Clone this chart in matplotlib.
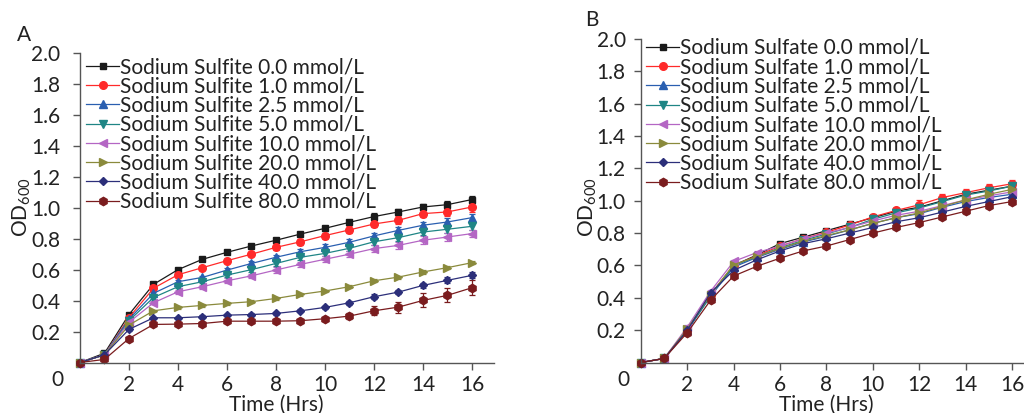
import matplotlib
matplotlib.use("Agg")
import matplotlib.pyplot as plt
from matplotlib.lines import Line2D
import numpy as np

plt.rcParams['font.family'] = ['Lato', 'DejaVu Sans']
plt.rcParams['mathtext.fontset'] = 'custom'
plt.rcParams['mathtext.rm'] = 'Lato'

hours = list(range(17))
concs = ["0.0", "1.0", "2.5", "5.0", "10.0", "20.0", "40.0", "80.0"]
colors = ["#1a1a1a", "#ff2a2a", "#2a5fb0", "#1f8585", "#b466c4", "#8a8a3c", "#2c2f7a", "#7a1c1e"]
markers = ["s", "o", "^", "v", "<", ">", "D", "h"]
msizes = [5, 5.5, 5.5, 5.5, 5.5, 5.5, 4.5, 6]

# Panel A: Sodium Sulfite
sulfite_00 = [0, 0.06, 0.31, 0.505, 0.60, 0.667, 0.712, 0.753, 0.79, 0.83, 0.867, 0.906, 0.943, 0.973, 1.005, 1.02, 1.053]
sulfite_10 = [0, 0.05, 0.29, 0.48, 0.567, 0.613, 0.658, 0.70, 0.744, 0.78, 0.82, 0.857, 0.895, 0.919, 0.962, 0.973, 1.005]
sulfite_25 = [0, 0.05, 0.28, 0.447, 0.522, 0.55, 0.597, 0.64, 0.68, 0.716, 0.744, 0.777, 0.818, 0.854, 0.887, 0.908, 0.936]
sulfite_50 = [0, 0.05, 0.27, 0.42, 0.49, 0.522, 0.565, 0.60, 0.64, 0.68, 0.705, 0.738, 0.78, 0.807, 0.843, 0.861, 0.88]
sulfite_100 = [0, 0.05, 0.26, 0.386, 0.457, 0.49, 0.528, 0.56, 0.598, 0.634, 0.667, 0.70, 0.736, 0.757, 0.79, 0.811, 0.833]
sulfite_200 = [0, 0.05, 0.242, 0.334, 0.356, 0.369, 0.382, 0.393, 0.414, 0.44, 0.462, 0.49, 0.528, 0.552, 0.585, 0.613, 0.645]
sulfite_400 = [0, 0.05, 0.214, 0.289, 0.289, 0.296, 0.306, 0.31, 0.317, 0.334, 0.356, 0.386, 0.425, 0.455, 0.498, 0.531, 0.563]
sulfite_800 = [0, 0.02, 0.155, 0.246, 0.248, 0.252, 0.267, 0.267, 0.267, 0.27, 0.283, 0.30, 0.334, 0.358, 0.401, 0.434, 0.483]

sulfite_err_00 = [0, 0.005, 0.01, 0.01, 0.01, 0.01, 0.01, 0.01, 0.012, 0.015, 0.015, 0.018, 0.02, 0.022, 0.022, 0.025, 0.025]
sulfite_err_10 = [0, 0.005, 0.01, 0.01, 0.012, 0.012, 0.015, 0.015, 0.018, 0.02, 0.02, 0.022, 0.022, 0.025, 0.025, 0.028, 0.03]
sulfite_err_25 = [0, 0.005, 0.01, 0.01, 0.012, 0.012, 0.012, 0.015, 0.015, 0.018, 0.02, 0.02, 0.02, 0.022, 0.022, 0.025, 0.025]
sulfite_err_50 = [0, 0.005, 0.01, 0.01, 0.01, 0.01, 0.012, 0.012, 0.015, 0.015, 0.018, 0.018, 0.02, 0.02, 0.02, 0.022, 0.022]
sulfite_err_100 = [0, 0.005, 0.01, 0.01, 0.012, 0.012, 0.015, 0.015, 0.018, 0.018, 0.02, 0.02, 0.022, 0.022, 0.025, 0.025, 0.025]
sulfite_err_200 = [0, 0.005, 0.008, 0.008, 0.008, 0.008, 0.008, 0.008, 0.008, 0.008, 0.008, 0.008, 0.01, 0.01, 0.01, 0.01, 0.01]
sulfite_err_400 = [0, 0.005, 0.008, 0.008, 0.008, 0.008, 0.008, 0.008, 0.008, 0.01, 0.01, 0.012, 0.015, 0.015, 0.015, 0.02, 0.02]
sulfite_err_800 = [0, 0.005, 0.008, 0.008, 0.008, 0.008, 0.008, 0.01, 0.01, 0.01, 0.012, 0.02, 0.03, 0.035, 0.045, 0.045, 0.05]

# Panel B: Sodium Sulfate
sulfate_00 = [0, 0.025, 0.20, 0.42, 0.60, 0.665, 0.735, 0.775, 0.815, 0.855, 0.895, 0.935, 0.96, 1.00, 1.04, 1.065, 1.09]
sulfate_10 = [0, 0.025, 0.20, 0.42, 0.60, 0.66, 0.72, 0.765, 0.805, 0.85, 0.90, 0.94, 0.975, 1.02, 1.05, 1.08, 1.105]
sulfate_25 = [0, 0.025, 0.20, 0.41, 0.59, 0.65, 0.70, 0.745, 0.78, 0.82, 0.86, 0.895, 0.92, 0.96, 0.995, 1.02, 1.04]
sulfate_50 = [0, 0.025, 0.20, 0.41, 0.60, 0.655, 0.71, 0.755, 0.795, 0.835, 0.885, 0.925, 0.955, 0.995, 1.035, 1.06, 1.09]
sulfate_100 = [0, 0.025, 0.22, 0.44, 0.625, 0.68, 0.72, 0.765, 0.80, 0.835, 0.875, 0.91, 0.935, 0.97, 1.005, 1.03, 1.055]
sulfate_200 = [0, 0.025, 0.21, 0.42, 0.605, 0.655, 0.705, 0.75, 0.785, 0.82, 0.86, 0.895, 0.925, 0.965, 1.005, 1.04, 1.07]
sulfate_400 = [0, 0.025, 0.20, 0.43, 0.57, 0.635, 0.69, 0.735, 0.765, 0.80, 0.835, 0.87, 0.895, 0.93, 0.965, 0.995, 1.025]
sulfate_800 = [0, 0.025, 0.185, 0.385, 0.535, 0.595, 0.645, 0.69, 0.72, 0.76, 0.80, 0.835, 0.865, 0.90, 0.935, 0.97, 0.995]

sulfate_err_00 = [0, 0.005, 0.01, 0.01, 0.01, 0.01, 0.01, 0.01, 0.01, 0.012, 0.012, 0.015, 0.015, 0.018, 0.02, 0.02, 0.02]
sulfate_err_10 = [0, 0.005, 0.01, 0.01, 0.01, 0.01, 0.01, 0.01, 0.012, 0.012, 0.015, 0.018, 0.03, 0.02, 0.022, 0.022, 0.022]
sulfate_err_25 = [0, 0.005, 0.01, 0.01, 0.01, 0.01, 0.01, 0.01, 0.01, 0.012, 0.012, 0.015, 0.015, 0.015, 0.018, 0.018, 0.02]
sulfate_err_50 = [0, 0.005, 0.01, 0.01, 0.01, 0.01, 0.01, 0.01, 0.012, 0.012, 0.015, 0.015, 0.018, 0.018, 0.02, 0.022, 0.025]
sulfate_err_100 = [0, 0.005, 0.01, 0.01, 0.01, 0.01, 0.01, 0.01, 0.012, 0.012, 0.015, 0.015, 0.015, 0.018, 0.018, 0.02, 0.02]
sulfate_err_200 = [0, 0.005, 0.01, 0.01, 0.01, 0.01, 0.01, 0.01, 0.01, 0.012, 0.012, 0.015, 0.015, 0.015, 0.018, 0.018, 0.02]
sulfate_err_400 = [0, 0.005, 0.01, 0.01, 0.01, 0.01, 0.01, 0.01, 0.01, 0.012, 0.012, 0.012, 0.015, 0.015, 0.015, 0.018, 0.018]
sulfate_err_800 = [0, 0.005, 0.01, 0.01, 0.01, 0.01, 0.01, 0.01, 0.01, 0.01, 0.012, 0.012, 0.012, 0.015, 0.015, 0.015, 0.015]

sulfite = [sulfite_00, sulfite_10, sulfite_25, sulfite_50, sulfite_100, sulfite_200, sulfite_400, sulfite_800]
sulfite_err = [sulfite_err_00, sulfite_err_10, sulfite_err_25, sulfite_err_50, sulfite_err_100, sulfite_err_200, sulfite_err_400, sulfite_err_800]
sulfate = [sulfate_00, sulfate_10, sulfate_25, sulfate_50, sulfate_100, sulfate_200, sulfate_400, sulfate_800]
sulfate_err = [sulfate_err_00, sulfate_err_10, sulfate_err_25, sulfate_err_50, sulfate_err_100, sulfate_err_200, sulfate_err_400, sulfate_err_800]

W, H = 1024, 413
fig = plt.figure(figsize=(W / 100, H / 100), dpi=100)

def fx(px):
    return px / W

def fy(py):
    return 1 - py / H

FS = 15
TXT = "#222222"

def panel(left_px, right_px, top_px, xmax, series, errs, name, letter, letter_xy,
          legend_xy, ylabel_x, zero_x, ypad):
    bottom_px = 362.5
    ax = fig.add_axes([fx(left_px), fy(bottom_px), fx(right_px - left_px), (bottom_px - top_px) / H])
    handles = []
    for vals, er, c, m, ms, cc in zip(series, errs, colors, markers, msizes, concs):
        ax.errorbar(hours, vals, yerr=er, color=c, marker=m, markersize=ms, linewidth=0.9,
                    elinewidth=0.9, capsize=2.5, capthick=0.9, clip_on=False)
        handles.append(Line2D([], [], color=c, marker=m, markersize=ms, linewidth=0.9,
                              label=f"{name} {cc} mmol/L"))
    ax.set_xlim(0, xmax)
    ax.set_ylim(0, 2.0)
    ax.set_xticks([2, 4, 6, 8, 10, 12, 14, 16])
    ax.set_yticks([0.2, 0.4, 0.6, 0.8, 1.0, 1.2, 1.4, 1.6, 1.8, 2.0])
    ax.set_yticklabels([f"{v:.1f}" for v in ax.get_yticks()])
    for s in ["top", "right"]:
        ax.spines[s].set_visible(False)
    for s in ["left", "bottom"]:
        ax.spines[s].set_color("#555555")
        ax.spines[s].set_linewidth(1.0)
    ax.tick_params(direction="out", length=5, width=1.0, color="#555555",
                   labelsize=FS, labelcolor=TXT)
    ax.tick_params(axis="x", pad=4)
    ax.tick_params(axis="y", pad=ypad)
    x16 = ax.transData.transform((16, 0))[0] / W
    fig.text((fx(left_px) + x16) / 2, fy(404.5), "Time (Hrs)", fontsize=FS, color=TXT,
             ha="center", va="center")
    ax.set_ylabel(r"OD$_{\mathregular{600}}$", fontsize=FS, color=TXT)
    ax.yaxis.set_label_coords(fx(ylabel_x), fy(207), transform=fig.transFigure)
    ax.yaxis.label.set_va("center")
    fig.text(fx(zero_x), fy(380), "0", fontsize=FS, color=TXT, ha="center", va="center")
    fig.text(fx(letter_xy[0]), fy(letter_xy[1]), letter, fontsize=FS, color=TXT, ha="center", va="center")
    leg = ax.legend(handles=handles, loc="upper left", bbox_to_anchor=(fx(legend_xy[0]), fy(legend_xy[1])),
                    bbox_transform=fig.transFigure, frameon=False, fontsize=FS,
                    handlelength=1.6, handletextpad=0.05, labelspacing=-0.035,
                    borderpad=0, borderaxespad=0)
    for t in leg.get_texts():
        t.set_color(TXT)
    return ax

panel(80, 494, 53, 16.9, sulfite, sulfite_err, "Sodium Sulfite", "A", (24, 35),
      (86, 57), 22, 57, 9)
panel(641, 1024, 39, 16.52, sulfate, sulfate_err, "Sodium Sulfate", "B", (592, 20),
      (646, 38), 588, 623, 6)

fig.savefig("out.png", dpi=100)
